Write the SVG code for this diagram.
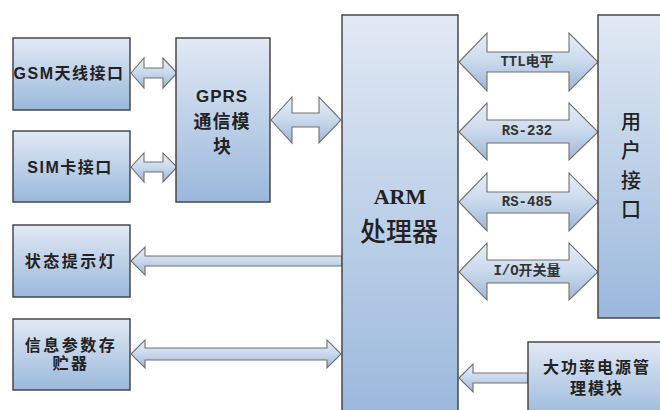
<svg xmlns="http://www.w3.org/2000/svg" width="660" height="410" viewBox="0 0 660 410">
<defs>
<linearGradient id="boxg" x1="0" y1="0" x2="0" y2="1">
<stop offset="0" stop-color="#e1e9f4"/>
<stop offset="1" stop-color="#9ab8dc"/>
</linearGradient>
<linearGradient id="arrg" x1="0" y1="0" x2="0" y2="1">
<stop offset="0" stop-color="#e6eef8"/>
<stop offset="0.5" stop-color="#c9d9ec"/>
<stop offset="1" stop-color="#9db6d4"/>
</linearGradient>
</defs>
<style>
.box{fill:url(#boxg);stroke:#3e3e3e;stroke-width:1.4}
.arr{fill:url(#arrg);stroke:#707070;stroke-width:1.1;stroke-linejoin:miter}
.t{font-family:"Liberation Sans","Noto Sans CJK SC",sans-serif;font-weight:bold;fill:#222;text-anchor:middle;dominant-baseline:central}
.bt{font-size:16px;letter-spacing:1.5px}
.lt{font-family:"Liberation Mono","Noto Sans CJK SC",monospace;font-size:14px;font-weight:bold;fill:#333;text-anchor:middle;dominant-baseline:central}
</style>
<rect width="660" height="410" fill="#ffffff"/>
<g id="connectors">
<polygon class="arr" points="131,73 144,58 144,68 163,68 163,58 177,73 163,88 163,78 144,78 144,88"/>
<polygon class="arr" points="131,167 144,153 144,162 163,162 163,153 177,167 163,182 163,172 144,172 144,182"/>
<polygon class="arr" points="271,120 292,97 292,113 319,113 319,97 341,120 319,143 319,127 292,127 292,143"/>
<polygon class="arr" points="459,62 487,33 487,52 569,52 569,33 598,62 569,91 569,72 487,72 487,91"/>
<polygon class="arr" points="459,132 487,103 487,120 569,120 569,103 598,132 569,160 569,143 487,143 487,160"/>
<polygon class="arr" points="459,202 487,173 487,192 569,192 569,173 598,202 569,231 569,213 487,213 487,231"/>
<polygon class="arr" points="459,272 487,243 487,260 569,260 569,243 598,272 569,300 569,283 487,283 487,300"/>
<polygon class="arr" points="131,261 145,247 145,256 342,256 342,266 145,266 145,275"/>
<polygon class="arr" points="131,354 145,340 145,348 327,348 327,340 341,354 327,368 327,360 145,360 145,368"/>
<polygon class="arr" points="459,378 473,364 473,373 528,373 528,383 473,383 473,392"/>
<text class="lt" x="527" y="62">TTL电平</text>
<text class="lt" x="527" y="131">RS-232</text>
<text class="lt" x="527" y="202">RS-485</text>
<text class="lt" x="527" y="271">I/O开关量</text>
</g>
<g id="gsm">
<rect class="box" x="13" y="38" width="117" height="72"/>
<text class="t bt" x="69" y="73">GSM天线接口</text>
</g>
<g id="sim">
<rect class="box" x="13" y="131" width="117" height="71"/>
<text class="t bt" x="70" y="167">SIM卡接口</text>
</g>
<g id="gprs">
<rect class="box" x="176" y="38" width="94" height="164"/>
<text class="t" x="222" y="96" font-size="17" letter-spacing="1">GPRS</text>
<text class="t" x="222" y="122" font-size="18" letter-spacing="1">通信模</text>
<text class="t" x="222" y="147" font-size="18">块</text>
</g>
<g id="arm">
<rect class="box" x="342" y="15" width="116" height="405"/>
<text class="t" x="400" y="196" font-size="22" style="font-family:'Liberation Serif','Noto Sans CJK SC',serif">ARM</text>
<text class="t" x="399" y="232" font-size="26" style="font-weight:500">处理器</text>
</g>
<g id="user">
<rect class="box" x="598" y="15" width="70" height="303"/>
<text class="t" x="631" y="122" font-size="20" style="font-weight:500">用</text>
<text class="t" x="631" y="151" font-size="20" style="font-weight:500">户</text>
<text class="t" x="631" y="181" font-size="20" style="font-weight:500">接</text>
<text class="t" x="631" y="210" font-size="20" style="font-weight:500">口</text>
</g>
<g id="status">
<rect class="box" x="13" y="225" width="117" height="72"/>
<text class="t bt" x="71" y="261" style="letter-spacing:2.5px">状态提示灯</text>
</g>
<g id="storage">
<rect class="box" x="13" y="319" width="117" height="71"/>
<text class="t bt" x="71" y="345" style="letter-spacing:2.5px">信息参数存</text>
<text class="t bt" x="71" y="363" style="letter-spacing:2.5px">贮器</text>
</g>
<g id="power">
<rect class="box" x="528" y="342" width="140" height="78"/>
<text class="t bt" x="597" y="367" style="letter-spacing:2px">大功率电源管</text>
<text class="t bt" x="597" y="388" style="letter-spacing:2px">理模块</text>
</g>
</svg>
